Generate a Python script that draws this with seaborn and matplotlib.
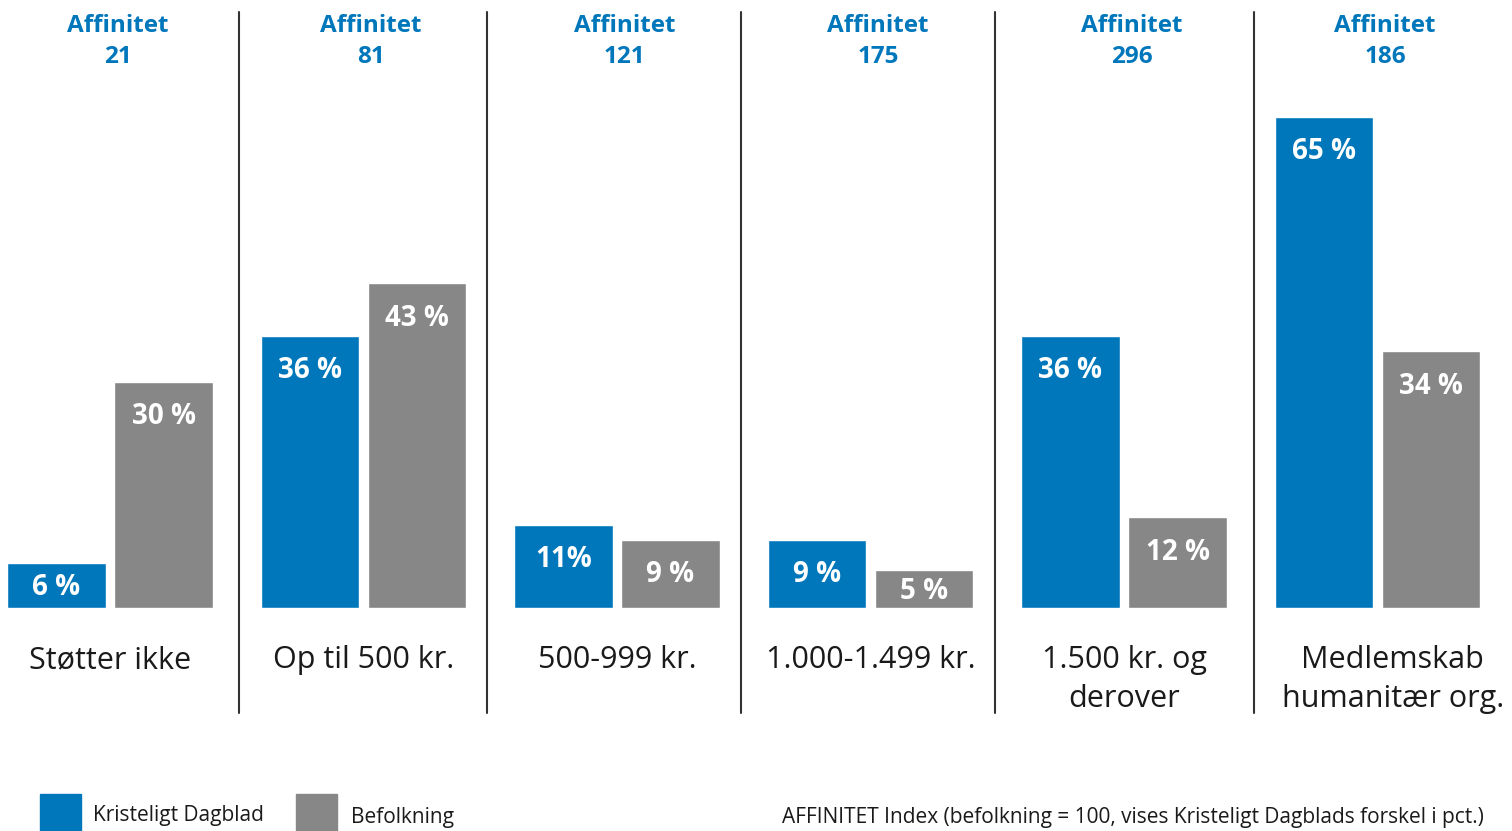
import matplotlib
matplotlib.use("Agg")
import matplotlib.pyplot as plt
import seaborn as sns
import pandas as pd
from matplotlib.patches import Rectangle
import matplotlib.transforms as mtransforms

categories = ["Støtter ikke", "Op til 500 kr.", "500-999 kr.", "1.000-1.499 kr.",
              "1.500 kr. og\nderover", "Medlemskab\nhumanitær org."]
kristeligt = [6, 36, 11, 9, 36, 65]
befolkning = [30, 43, 9, 5, 12, 34]
kristeligt_labels = ["6 %", "36 %", "11%", "9 %", "36 %", "65 %"]
befolkning_labels = ["30 %", "43 %", "9 %", "5 %", "12 %", "34 %"]
affinitet = [21, 81, 121, 175, 296, 186]
series_names = ["Kristeligt Dagblad", "Befolkning"]
note = "AFFINITET Index (befolkning = 100, vises Kristeligt Dagblads forskel i pct.)"

BLUE = "#0077BB"
GRAY = "#878787"

sns.set_theme(style="white")
plt.rcParams["font.family"] = ["Open Sans", "DejaVu Sans"]

W, H = 1512, 831
fig = plt.figure(figsize=(W / 100, H / 100), dpi=100)
ax = fig.add_axes([0, (H - 608) / H, 1, 608 / H])

df = pd.DataFrame({
    "cat": categories * 2,
    "series": [series_names[0]] * 6 + [series_names[1]] * 6,
    "value": kristeligt + befolkning,
})
sns.barplot(data=df, x="cat", y="value", hue="series", order=categories,
            hue_order=series_names, palette=[BLUE, GRAY], saturation=1,
            width=0.845, gap=0.084, legend=False, ax=ax, errorbar=None)

pitch = 253.5
x0 = -110.0 / pitch
ax.set_xlim(x0, x0 + W / pitch)
ax.set_ylim(0, 608 / 7.55)
ax.axis("off")

# bar value labels
bars = ax.patches
for series_idx, (vals, labs) in enumerate([(kristeligt, kristeligt_labels),
                                            (befolkning, befolkning_labels)]):
    for i, (v, lab) in enumerate(zip(vals, labs)):
        bar = bars[series_idx * 6 + i]
        cx = bar.get_x() + bar.get_width() / 2
        y = max(v - 4.6, v / 2 - 0.3)
        ax.text(cx, y, lab, ha="center", va="center", color="white",
                fontsize=20, fontweight="bold")

trans = mtransforms.blended_transform_factory(ax.transData, ax.transAxes)

def py(p):  # pixel y from top -> axes fraction
    return (608 - p) / 608

# Affinitet headers
for i, a in enumerate(affinitet):
    ax.text(i + 0.03, py(26), "Affinitet", transform=trans, ha="center",
            va="center", color=BLUE, fontsize=17.5, fontweight="bold")
    ax.text(i + 0.03, py(57), str(a), transform=trans, ha="center",
            va="center", color=BLUE, fontsize=17.5, fontweight="bold")

# category labels
cat_offsets = [0, 0, 0, 0, 0, 0.06]
for i, c in enumerate(categories):
    ax.text(i + cat_offsets[i], py(645), c, transform=trans, ha="center",
            va="top", color="#1a1a1a", fontsize=22, linespacing=1.4)

# separators
sep_positions = [0.509, 1.487, 2.489, 3.491, 4.513]
for s in sep_positions:
    ax.plot([s, s], [py(12), py(713)], transform=trans,
            color="#333333", lw=1.5, clip_on=False)

# legend
def fx(p):
    return p / W

def fy(p):
    return (H - p) / H

fig.patches.append(Rectangle((fx(40), fy(831)), 41 / W, 37 / H, color=BLUE,
                             transform=fig.transFigure, figure=fig))
fig.patches.append(Rectangle((fx(296), fy(831)), 41 / W, 37 / H, color=GRAY,
                             transform=fig.transFigure, figure=fig))
fig.text(fx(93), fy(816), series_names[0], ha="left", va="center",
         fontsize=15, color="#1a1a1a")
fig.text(fx(351), fy(818), series_names[1], ha="left", va="center",
         fontsize=15, color="#1a1a1a")
fig.text(fx(1484), fy(817), note, ha="right", va="center",
         fontsize=15, color="#1a1a1a")

fig.savefig("out.png", dpi=100)
